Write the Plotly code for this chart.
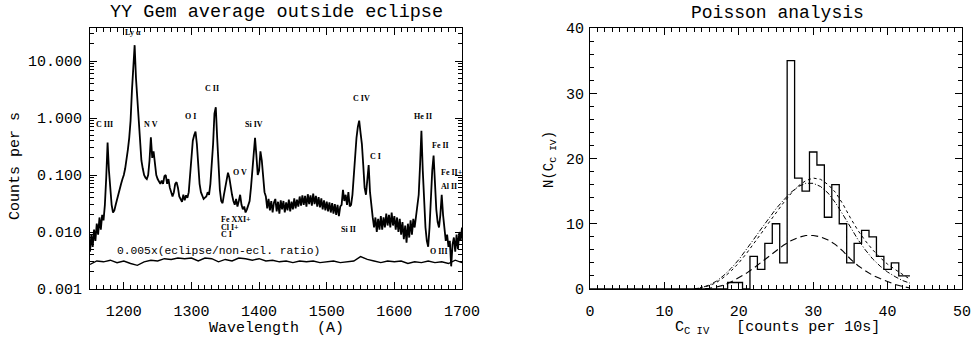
import plotly.graph_objects as go
import math

# ---------------- Left panel data ----------------
wavelength = list(range(1150, 1701, 2))  # Angstrom
counts = [
    0.0045, 0.009, 0.0055, 0.011, 0.007, 0.014, 0.009, 0.018, 0.011, 0.020, # 1150
    0.016, 0.030, 0.09, 0.37, 0.12, 0.05, 0.03, 0.022, 0.024, 0.030,        # 1170
    0.038, 0.048, 0.058, 0.07, 0.085, 0.10, 0.13, 0.18, 0.28, 0.45,         # 1190
    0.9, 3.0, 8.0, 19.0, 5.0, 2.0, 0.8, 0.3, 0.18, 0.13,                    # 1210
    0.10, 0.09, 0.085, 0.10, 0.18, 0.46, 0.20, 0.26, 0.15, 0.10,            # 1230
    0.085, 0.075, 0.07, 0.08, 0.07, 0.095, 0.10, 0.07, 0.085, 0.06,         # 1250
    0.05, 0.042, 0.05, 0.07, 0.075, 0.06, 0.042, 0.038, 0.034, 0.045,       # 1270
    0.036, 0.044, 0.04, 0.05, 0.09, 0.18, 0.40, 0.50, 0.58, 0.35,           # 1290
    0.15, 0.07, 0.05, 0.042, 0.038, 0.04, 0.042, 0.05, 0.045, 0.07,         # 1310
    0.14, 0.35, 1.2, 1.55, 0.45, 0.12, 0.055, 0.035, 0.032, 0.045,          # 1330
    0.06, 0.085, 0.11, 0.09, 0.06, 0.045, 0.035, 0.03, 0.038, 0.028,        # 1350
    0.035, 0.045, 0.03, 0.025, 0.028, 0.022, 0.025, 0.03, 0.035, 0.06,      # 1370
    0.12, 0.25, 0.45, 0.22, 0.10, 0.12, 0.26, 0.18, 0.08, 0.05,             # 1390
    0.042, 0.026, 0.038, 0.024, 0.035, 0.022, 0.033, 0.038, 0.023, 0.034,   # 1410
    0.021, 0.036, 0.025, 0.035, 0.022, 0.033, 0.024, 0.037, 0.023, 0.034,   # 1430
    0.025, 0.039, 0.026, 0.037, 0.028, 0.042, 0.029, 0.044, 0.030, 0.043,   # 1450
    0.028, 0.046, 0.031, 0.044, 0.029, 0.047, 0.031, 0.043, 0.028, 0.041,   # 1470
    0.027, 0.039, 0.025, 0.036, 0.024, 0.034, 0.023, 0.033, 0.022, 0.032,   # 1490
    0.021, 0.031, 0.020, 0.030, 0.019, 0.028, 0.030, 0.055, 0.035, 0.045,   # 1510
    0.030, 0.05, 0.028, 0.03, 0.045, 0.10, 0.25, 0.45, 0.7, 0.9,            # 1530
    0.55, 0.35, 0.15, 0.06, 0.045, 0.08, 0.15, 0.05, 0.025, 0.018,          # 1550
    0.012, 0.018, 0.010, 0.017, 0.011, 0.019, 0.011, 0.018, 0.012, 0.021,   # 1570
    0.013, 0.020, 0.012, 0.022, 0.013, 0.019, 0.011, 0.018, 0.010, 0.017,   # 1590
    0.009, 0.015, 0.0075, 0.013, 0.0065, 0.014, 0.008, 0.016, 0.009, 0.017, # 1610
    0.012, 0.018, 0.025, 0.045, 0.15, 0.6, 0.12, 0.03, 0.012, 0.007,        # 1630
    0.0055, 0.012, 0.04, 0.12, 0.22, 0.06, 0.025, 0.015, 0.012, 0.02,       # 1650
    0.045, 0.02, 0.010, 0.007, 0.009, 0.0055, 0.007, 0.0025, 0.006, 0.008,  # 1670
    0.0045, 0.009, 0.005, 0.010, 0.007, 0.012,                              # 1690
]

ratio_wavelength = list(range(1150, 1701, 10))
ratio_scaled = [  # 0.005 x (eclipse / non-eclipse ratio)
    0.0027, 0.0031, 0.0030, 0.0032, 0.0029, 0.0031, 0.0028, 0.0026, 0.0030, 0.0032,
    0.0031, 0.0034, 0.0033, 0.0035, 0.0034, 0.0035, 0.0031, 0.0035, 0.0034, 0.0030,
    0.0033, 0.0031, 0.0035, 0.0034, 0.0032, 0.0034, 0.0031, 0.0032, 0.0030, 0.0031,
    0.0029, 0.0031, 0.0030, 0.0031, 0.0029, 0.0030, 0.0031, 0.0029, 0.0030, 0.0031,
    0.0037, 0.0033, 0.0031, 0.0029, 0.0031, 0.0030, 0.0031, 0.0028, 0.0030, 0.0029,
    0.0031, 0.0029, 0.0030, 0.0028, 0.0032, 0.0029,
]

line_labels = ["Ly α", "C III", "N V", "O I", "C II", "Si IV", "O V", "C IV", "C I",
               "He II", "Fe II", "Si II", "O III"]
label_wave = [1213, 1171.5, 1240, 1298.6, 1329.7, 1393, 1371.7, 1551.2, 1572,
              1642, 1668.5, 1531.5, 1665.5]
label_level = [31.6, 0.78, 0.78, 1.08, 3.27, 0.78, 0.112, 2.19, 0.209,
               1.08, 0.33, 0.011, 0.0045]

left_labels = ["Fe XXI+", "Cl I+", "C I", "Fe II+", "Al II"]
left_label_wave = [1340, 1340, 1340, 1666, 1666]
left_label_level = [0.0164, 0.0120, 0.0089, 0.112, 0.063]

# ---------------- Right panel data ----------------
hist_x = list(range(0, 44))
hist_n = [0, 0, 0, 0, 0, 0, 0, 0, 0, 0,
          0, 0, 0, 0, 0, 0, 0, 0, 0, 1,
          1, 0, 5, 3, 7, 10, 4, 35, 17, 15,
          21, 19, 11, 16, 10, 4, 7, 9, 8, 5,
          3, 4, 2, 2]

curve_x = list(range(14, 44))
curve_dotted = [0.0, 0.2, 0.5, 1.0, 1.8, 2.8, 4.0, 5.4, 6.9, 8.5,
                10.1, 11.7, 13.2, 14.6, 15.8, 16.6, 17.0, 16.8, 16.0, 14.8,
                13.0, 10.9, 9.0, 7.4, 6.0, 4.8, 3.8, 3.0, 2.2, 1.5]
curve_dashdot = [0.0, 0.2, 0.6, 1.2, 2.1, 3.2, 4.5, 6.0, 7.6, 9.2,
                 10.8, 12.3, 13.6, 14.8, 15.7, 16.2, 16.2, 15.7, 14.7, 13.2,
                 11.4, 9.5, 7.6, 6.0, 4.6, 3.5, 2.6, 1.9, 1.3, 0.9]
curve_dashed = [0.0, 0.0, 0.1, 0.3, 0.6, 1.1, 1.7, 2.4, 3.2, 4.1,
                5.0, 5.9, 6.7, 7.4, 7.9, 8.2, 8.2, 8.0, 7.5, 6.8,
                5.8, 4.6, 3.6, 2.8, 2.1, 1.6, 1.1, 0.7, 0.4, 0.15]

# ---------------- Figure ----------------
W, H = 974, 341
FONT = "Liberation Mono"
LBL = "Liberation Serif"

def px(x):
    return x / W

def py(y):
    return 1 - y / H

fig = go.Figure()

fig.add_trace(go.Scatter(x=wavelength, y=counts, mode="lines",
                         line=dict(color="black", width=1.8),
                         xaxis="x", yaxis="y", showlegend=False))
fig.add_trace(go.Scatter(x=ratio_wavelength, y=ratio_scaled, mode="lines",
                         line=dict(color="black", width=1.4),
                         xaxis="x", yaxis="y", showlegend=False))

fig.add_trace(go.Scatter(x=hist_x, y=hist_n, mode="lines",
                         line=dict(color="black", width=1.3, shape="hvh"),
                         xaxis="x2", yaxis="y2", showlegend=False))
fig.add_trace(go.Scatter(x=curve_x, y=curve_dotted, mode="lines",
                         line=dict(color="black", width=1, dash="dot"),
                         xaxis="x2", yaxis="y2", showlegend=False))
fig.add_trace(go.Scatter(x=curve_x, y=curve_dashdot, mode="lines",
                         line=dict(color="black", width=1, dash="5px,2px,1px,2px"),
                         xaxis="x2", yaxis="y2", showlegend=False))
fig.add_trace(go.Scatter(x=curve_x, y=curve_dashed, mode="lines",
                         line=dict(color="black", width=1.1, dash="7px,4px"),
                         xaxis="x2", yaxis="y2", showlegend=False))

axis_common = dict(showline=True, linecolor="black", linewidth=1.2, mirror="allticks",
                   ticks="inside", ticklen=7, tickcolor="black", tickwidth=1,
                   showgrid=False, zeroline=False, automargin=False,
                   tickfont=dict(family=FONT, size=15, color="black"))

log_minor = [m * 10 ** e for e in range(-3, 2) for m in range(2, 10)]

fig.update_layout(
    width=W, height=H, margin=dict(l=0, r=0, t=0, b=0, pad=0),
    autosize=False,
    paper_bgcolor="white", plot_bgcolor="white",
    xaxis=dict(axis_common, domain=[px(90), px(462)], range=[1150, 1700],
               tick0=1200, dtick=100, ticklabelstandoff=8,
               minor=dict(ticks="inside", ticklen=3.5, dtick=10, tick0=1150,
                          tickcolor="black", showgrid=False),
               anchor="y"),
    yaxis=dict(axis_common, domain=[py(289), py(28)], type="log", range=[-3, 1.58],
               tickvals=[0.001, 0.01, 0.1, 1, 10],
               ticktext=["0.001", "0.010", "0.100", "1.000", "10.000"],
               ticklabelstandoff=4,
               minor=dict(ticks="inside", ticklen=3.5, tickvals=log_minor,
                          tickcolor="black", showgrid=False),
               anchor="x"),
    xaxis2=dict(axis_common, domain=[px(590), px(962)], range=[0, 50],
                tick0=0, dtick=10, ticklabelstandoff=8,
                minor=dict(ticks="inside", ticklen=3.5, dtick=1, tick0=0,
                           tickcolor="black", showgrid=False),
                anchor="y2"),
    yaxis2=dict(axis_common, domain=[py(289), py(28)], range=[0, 40],
                tick0=0, dtick=10, ticklabelstandoff=2,
                minor=dict(ticks="inside", ticklen=3.5, dtick=2, tick0=0,
                           tickcolor="black", showgrid=False),
                anchor="x2"),
)

ann = []

def paper_text(text, x, y, size, angle=0):
    ann.append(dict(text=text, x=px(x), y=py(y), xref="paper", yref="paper",
                    xanchor="center", yanchor="middle", textangle=angle,
                    showarrow=False, font=dict(family=FONT, size=size, color="black")))

paper_text("YY Gem average outside eclipse", 276, 13, 18.5)
paper_text("Poisson analysis", 777, 13, 18)
paper_text("Wavelength  (A)", 276, 328, 15)
paper_text("Counts per s", 15, 166, 15, -90)
paper_text("C<sub>C IV</sub>   [counts per 10s]", 777, 328, 15)
paper_text("N(C<sub>C IV</sub>)", 550, 160, 14, -90)

# ratio label
ann.append(dict(text="0.005x(eclipse/non-ecl. ratio)", x=1340, y=math.log10(0.0047),
                xref="x", yref="y", showarrow=False,
                font=dict(family=FONT, size=11.3, color="black")))
# line identifications
for t, w, v in zip(line_labels, label_wave, label_level):
    ann.append(dict(text="<b>%s</b>" % t, x=w, y=math.log10(v), xref="x", yref="y",
                    showarrow=False, font=dict(family=LBL, size=8, color="black")))
for t, w, v in zip(left_labels, left_label_wave, left_label_level):
    ann.append(dict(text="<b>%s</b>" % t, x=w, y=math.log10(v), xref="x", yref="y",
                    xanchor="left", showarrow=False,
                    font=dict(family=LBL, size=8, color="black")))

fig.update_layout(annotations=ann)
fig.write_html("out.html", config={"displayModeBar": False},
               post_script="document.body.style.margin='0px';"
                           "document.body.style.overflow='hidden';")
